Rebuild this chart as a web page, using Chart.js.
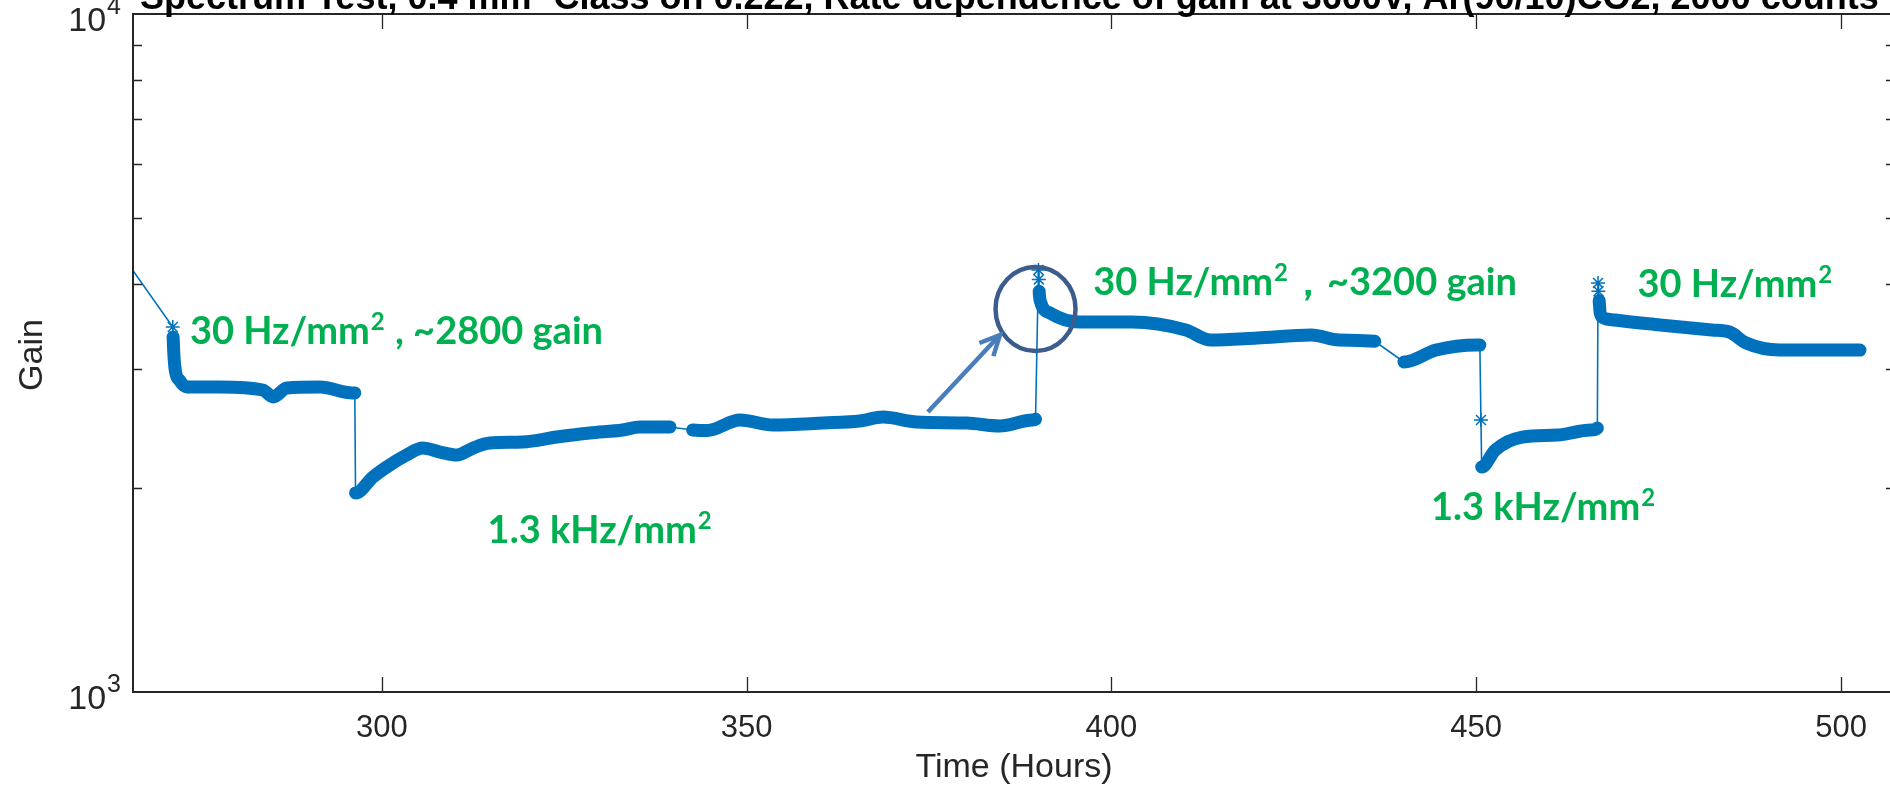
<!DOCTYPE html>
<html><head><meta charset="utf-8">
<script src="https://cdn.jsdelivr.net/npm/chart.js@4/dist/chart.umd.min.js"></script>
<style>
html,body{margin:0;padding:0;background:#fff;overflow:hidden;}
#wrap{position:relative;width:1900px;height:791px;}
</style></head><body>
<div id="wrap"><canvas id="c" width="1900" height="791"></canvas></div>
<script>
// ---- data ----
const hours = [
  262.0,
  271.35,
  271.4, 271.5, 271.7, 272.3, 273.3, 277.8, 283.7, 285.1, 287.0, 291.5, 296.0, 296.3,
  296.4, 298.8, 301.1, 303.4, 305.6, 308.0, 310.3, 312.5, 314.8, 319.3, 324.0, 328.5, 333.0, 335.4, 339.5,
  342.6, 344.6, 349.1, 353.6, 360.5, 365.5, 368.7, 373.3, 380.2, 384.7, 389.2, 389.6,
  390.0, 390.05,
  390.1, 390.3, 391.6, 395.6, 402.8, 410.2, 413.6, 420.0, 427.4, 431.2, 436.1,
  440.1, 444.5, 450.1, 450.5,
  450.65,
  450.75, 452.6, 456.3, 461.1, 465.7, 466.6,
  466.7, 466.75,
  466.85, 467.0, 467.5, 469.0, 475.2, 482.3, 484.7, 487.0, 491.6, 498.8, 502.6
];
const gain = [
  4800,
  3454,
  3340, 3150, 2980, 2880, 2818, 2818, 2789, 2724, 2808, 2818, 2761, 2761,
  1966, 2076, 2162, 2236, 2290, 2259, 2236, 2290, 2329, 2337, 2377, 2410, 2435, 2460, 2460,
  2435, 2430, 2519, 2476, 2493, 2510, 2544, 2502, 2493, 2468, 2519, 2525,
  4193, 4060,
  3900, 3760, 3622, 3513, 3513, 3419, 3304, 3327, 3361, 3304, 3290,
  3067, 3194, 3249, 3249,
  2519,
  2147, 2274, 2377, 2393, 2435, 2451,
  4012, 3900,
  3780, 3620, 3560, 3537, 3478, 3419, 3396, 3271, 3194, 3194, 3194
];
// measurement run id of each point (thin connecting line between different runs)
const run = [
  0,
  1,
  2,2,2,2,2,2,2,2,2,2,2,2,
  3,3,3,3,3,3,3,3,3,3,3,3,3,3,3,
  4,4,4,4,4,4,4,4,4,4,4,4,
  5,6,
  7,7,7,7,7,7,7,7,7,7,7,
  8,8,8,8,
  9,
  10,10,10,10,10,10,
  11,12,
  13,13,13,13,13,13,13,13,13,13,13
];
const markerHours = [271.35, 390.0, 390.05, 450.65, 466.7, 466.75];
const xTicks = [300, 350, 400, 450, 500];
const yDecades = [3, 4];
const yMinor = [2000, 3000, 4000, 5000, 6000, 7000, 8000, 9000];
const xRange = [265.9, 507.4];
const yRange = [1000, 10000];
const titleText = 'Spectrum Test, 0.4 mm\u00b2 Class on 0.222, Rate dependence of gain at 3600V, Ar(90/10)CO2, 2000 counts';
const xLabel = 'Time (Hours)';
const yLabel = 'Gain';
// annotation texts; "^2" marks a superscript 2
const notes = [
  {text: '30 Hz/mm^2 , ~2800 gain', h: 273.7, g: 3261},
  {text: '1.3 kHz/mm^2', h: 314.5, g: 1659},
  {text: '30 Hz/mm^2\uff0c~3200 gain', h: 397.5, g: 3852},
  {text: '30 Hz/mm^2', h: 472.1, g: 3828},
  {text: '1.3 kHz/mm^2', h: 443.8, g: 1793}
];
const circleAt = {h: 389.6, g: 3672};
const arrowFrom = {h: 374.85, g: 2588};
const arrowTo = {h: 384.72, g: 3361};

const BLUE = '#0072BD';
const AXIS = '#262626';
const NOTE_FONT = '"Lato", "Noto Sans", sans-serif';
const NOTE_SIZE = 38;

function drawRich(ctx, str, x, y) {
  const parts = str.split('^2');
  let cx = x;
  parts.forEach((p, i) => {
    ctx.font = 'bold ' + NOTE_SIZE + 'px ' + NOTE_FONT;
    ctx.fillText(p, cx, y);
    cx += ctx.measureText(p).width;
    if (i < parts.length - 1) {
      ctx.font = 'bold ' + Math.round(NOTE_SIZE * 0.62) + 'px ' + NOTE_FONT;
      ctx.fillText('2', cx + 1, y - NOTE_SIZE * 0.36);
      cx += ctx.measureText('2').width + 2;
    }
  });
}

const decor = {
  id: 'decor',
  afterDatasetsDraw(chart) {
    const {ctx, scales: {x, y}} = chart;
    ctx.save();
    ctx.fillStyle = '#00B050';
    ctx.textAlign = 'left';
    ctx.textBaseline = 'alphabetic';
    notes.forEach(n => drawRich(ctx, n.text, x.getPixelForValue(n.h), y.getPixelForValue(n.g)));
    // ellipse
    ctx.strokeStyle = '#3B5C8C';
    ctx.lineWidth = 4.5;
    ctx.beginPath();
    ctx.ellipse(x.getPixelForValue(circleAt.h), y.getPixelForValue(circleAt.g), 40, 42, 0, 0, Math.PI * 2);
    ctx.stroke();
    // arrow
    const x0 = x.getPixelForValue(arrowFrom.h), y0 = y.getPixelForValue(arrowFrom.g);
    const x1 = x.getPixelForValue(arrowTo.h), y1 = y.getPixelForValue(arrowTo.g);
    const ang = Math.atan2(y1 - y0, x1 - x0);
    ctx.strokeStyle = '#4A7EBB';
    ctx.lineWidth = 4.5;
    ctx.lineCap = 'butt';
    ctx.beginPath(); ctx.moveTo(x0, y0); ctx.lineTo(x1, y1); ctx.stroke();
    ctx.beginPath();
    ctx.moveTo(x1 - 22 * Math.cos(ang - 0.45), y1 - 22 * Math.sin(ang - 0.45));
    ctx.lineTo(x1, y1);
    ctx.lineTo(x1 - 22 * Math.cos(ang + 0.45), y1 - 22 * Math.sin(ang + 0.45));
    ctx.stroke();
    ctx.restore();
  },
  afterDraw(chart) {
    const {ctx, chartArea: a, scales: {x, y}} = chart;
    ctx.save();
    ctx.strokeStyle = AXIS;
    ctx.lineWidth = 2;
    ctx.strokeRect(a.left, a.top, a.right - a.left, a.bottom - a.top);
    ctx.lineWidth = 1.3;
    ctx.beginPath();
    xTicks.forEach(t => {
      const px = Math.round(x.getPixelForValue(t)) + 0.5;
      ctx.moveTo(px, a.bottom); ctx.lineTo(px, a.bottom - 15);
      ctx.moveTo(px, a.top); ctx.lineTo(px, a.top + 15);
    });
    yMinor.forEach(t => {
      const py = Math.round(y.getPixelForValue(t)) + 0.5;
      ctx.moveTo(a.left, py); ctx.lineTo(a.left + 9, py);
      ctx.moveTo(a.right, py); ctx.lineTo(a.right - 9, py);
    });
    ctx.stroke();
    // tick labels
    ctx.fillStyle = AXIS;
    ctx.font = '31px "Liberation Sans", Arial, sans-serif';
    ctx.textAlign = 'center';
    ctx.textBaseline = 'middle';
    xTicks.forEach(t => ctx.fillText(String(t), x.getPixelForValue(t), a.bottom + 36));
    yDecades.forEach(e => {
      const py = y.getPixelForValue(Math.pow(10, e));
      const right = a.left - 12;
      ctx.font = '25px "Liberation Sans", Arial, sans-serif';
      ctx.textAlign = 'right';
      ctx.fillText(String(e), right, py - 7);
      const w = ctx.measureText(String(e)).width;
      ctx.font = '34px "Liberation Sans", Arial, sans-serif';
      ctx.fillText('10', right - w - 1, py + 8);
    });
    // axis labels
    ctx.font = '34px "Liberation Sans", Arial, sans-serif';
    ctx.textAlign = 'center';
    ctx.fillText(xLabel, (a.left + a.right) / 2, a.bottom + 76);
    ctx.save();
    ctx.translate(33, (a.top + a.bottom) / 2 + 2);
    ctx.rotate(-Math.PI / 2);
    ctx.fillText(yLabel, 0, 0);
    ctx.restore();
    // title (mostly cut off at the top)
    ctx.fillStyle = '#000';
    ctx.font = 'bold 36px "Liberation Sans", Arial, sans-serif';
    ctx.textAlign = 'left';
    ctx.textBaseline = 'alphabetic';
    ctx.fillText(titleText, 140, 9);
    ctx.restore();
  }
};

const points = hours.map((h, i) => ({x: h, y: gain[i]}));

new Chart(document.getElementById('c'), {
  type: 'line',
  data: {
    datasets: [{
      // thin connecting line through every measurement, with asterisk markers
      data: points,
      borderColor: BLUE,
      backgroundColor: BLUE,
      borderWidth: 1.6,
      tension: 0,
      pointStyle: 'star',
      pointRadius: c => markerHours.includes(hours[c.dataIndex]) ? 7 : 0,
      pointBorderWidth: 1.5,
      pointBorderColor: BLUE,
      pointHoverRadius: 0,
      order: 1
    }, {
      // dense measurement band inside each run
      data: points,
      borderColor: BLUE,
      borderWidth: 13,
      borderJoinStyle: 'round',
      borderCapStyle: 'round',
      cubicInterpolationMode: 'monotone',
      pointRadius: 0,
      pointHoverRadius: 0,
      segment: {
        borderColor: c => run[c.p0DataIndex] === run[c.p1DataIndex] ? BLUE : 'rgba(0,0,0,0)'
      },
      order: 2
    }]
  },
  options: {
    responsive: false,
    animation: false,
    devicePixelRatio: 1,
    layout: {padding: {left: 133, top: 14, right: 5, bottom: 99}},
    plugins: {legend: {display: false}, tooltip: {enabled: false}, title: {display: false}},
    scales: {
      x: {type: 'linear', display: false, min: xRange[0], max: xRange[1]},
      y: {type: 'logarithmic', display: false, min: yRange[0], max: yRange[1]}
    }
  },
  plugins: [decor]
});
</script>
</body></html>
